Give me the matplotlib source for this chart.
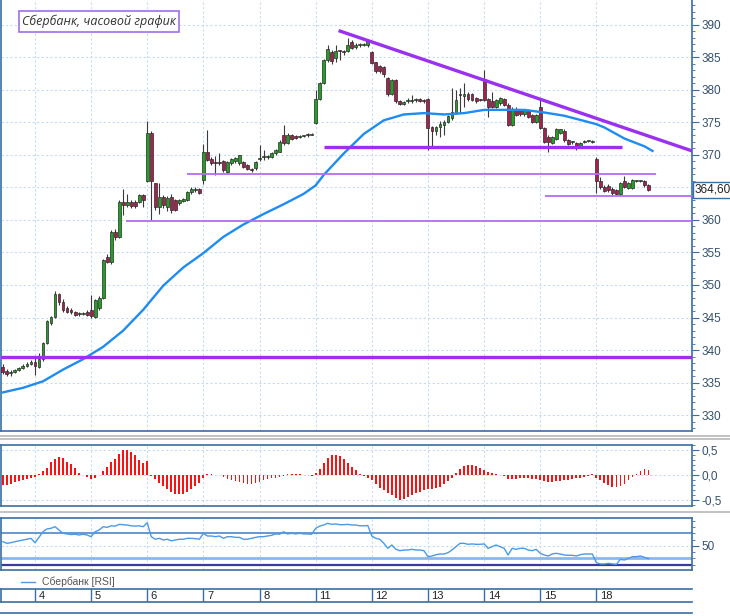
import numpy as np
import matplotlib
matplotlib.use("Agg")
import matplotlib.pyplot as plt
from matplotlib.ticker import FixedLocator, MultipleLocator, FuncFormatter
from matplotlib.lines import Line2D
import matplotlib.transforms as mtransforms

# ---------------- data (hourly bars) ----------------
opens = [337.4, 336.8, 336.5, 336.6, 336.9, 337.2, 337.5, 337.8, 338.2, 337.4,
         338.6, 341.1, 344.2, 345.1, 348.6, 347.4, 346.4, 346.2, 345.8, 345.5,
         345.6, 345.8, 346.2, 345.1, 346.4, 348.0, 354.3, 353.6, 358.2, 357.4,
         362.8, 362.3, 362.8, 362.8, 362.8, 363.8, 366.0, 373.4, 365.6, 362.0,
         363.5, 362.0, 363.5, 363.0, 362.6, 362.9, 363.1, 364.3, 364.6, 364.7,
         366.1, 370.5, 369.3, 368.9, 368.9, 369.0, 367.4, 368.8, 369.0, 368.7,
         368.9, 368.4, 367.8, 367.9, 369.3, 369.6, 369.6, 369.7, 370.2, 370.5,
         373.0, 371.8, 373.0, 372.9, 372.8, 372.9, 373.2, 373.1, 374.9, 378.6,
         381.0, 384.5, 385.8, 384.8, 386.0, 385.9, 386.0, 387.4, 386.5, 386.8,
         386.9, 386.8, 385.8, 384.2, 383.6, 383.5, 381.8, 379.4, 381.5, 378.2,
         377.8, 378.2, 378.3, 378.4, 378.6, 378.3, 378.6, 374.3, 373.7, 374.3,
         374.6, 375.1, 375.6, 376.4, 379.4, 379.0, 379.4, 379.3, 378.7, 378.5,
         381.7, 378.5, 378.2, 377.4, 377.9, 378.5, 377.6, 374.6, 377.1, 376.9,
         376.2, 376.8, 376.1, 375.1, 377.4, 374.1, 372.8, 371.8, 372.5, 373.4,
         373.7, 372.3, 371.9, 371.8, 371.3, 372.0, 372.1, 372.0, 369.3, 365.9,
         365.1, 365.2, 364.8, 364.6, 364.0, 365.9, 364.9, 364.9, 366.0, 366.0,
         366.0, 365.3]
closes = [336.6, 336.4, 336.6, 336.9, 337.2, 337.5, 337.8, 338.1, 337.6, 338.6,
          341.1, 344.4, 345.1, 348.6, 347.4, 346.1, 345.9, 345.8, 345.4, 345.6,
          345.7, 345.4, 345.2, 347.7, 348.0, 353.8, 353.6, 358.2, 357.4, 362.8,
          362.3, 362.7, 362.2, 362.2, 363.8, 363.0, 373.4, 366.0, 362.0, 363.5,
          362.3, 363.3, 361.5, 361.5, 363.0, 363.2, 364.3, 364.7, 364.6, 364.2,
          370.5, 369.2, 368.7, 368.8, 368.8, 367.7, 368.9, 369.3, 369.5, 369.9,
          368.2, 367.8, 367.6, 368.9, 369.5, 369.8, 369.7, 370.3, 370.7, 372.0,
          371.8, 373.0, 372.5, 372.6, 372.9, 372.9, 373.0, 373.2, 378.6, 381.0,
          384.5, 386.3, 384.4, 386.0, 385.9, 385.8, 386.9, 386.4, 386.9, 386.8,
          387.0, 387.5, 384.1, 382.9, 382.8, 382.4, 379.4, 381.5, 378.2, 377.8,
          378.1, 378.3, 378.4, 378.4, 378.3, 378.2, 374.1, 373.7, 374.3, 374.8,
          375.0, 375.9, 376.6, 378.4, 379.2, 379.4, 378.5, 378.4, 378.2, 378.4,
          378.4, 377.3, 377.4, 378.4, 378.7, 377.7, 374.6, 377.1, 376.1, 376.2,
          376.9, 375.8, 375.1, 376.1, 374.1, 372.0, 371.9, 372.7, 373.9, 373.9,
          372.2, 371.7, 371.9, 371.2, 371.8, 372.1, 372.1, 372.0, 365.9, 365.1,
          364.5, 364.6, 364.1, 364.0, 365.6, 365.1, 365.6, 366.1, 366.0, 366.0,
          365.3, 364.6]
highs = [337.8, 337.1, 337.0, 337.1, 337.4, 337.8, 338.1, 338.5, 339.0, 339.5,
         341.3, 344.6, 345.3, 349.0, 348.8, 347.8, 346.8, 346.5, 346.0, 345.9,
         345.9, 346.1, 348.5, 347.9, 348.3, 354.0, 354.7, 358.4, 358.6, 363.0,
         364.8, 364.0, 363.1, 363.0, 364.0, 364.0, 375.2, 373.6, 365.7, 365.6,
         363.8, 363.6, 364.0, 363.2, 363.2, 363.4, 364.5, 365.1, 365.0, 364.9,
         371.7, 373.8, 369.6, 369.8, 370.2, 369.2, 369.1, 369.5, 369.7, 370.0,
         369.1, 368.6, 368.0, 369.1, 371.5, 370.7, 370.0, 370.5, 370.9, 372.2,
         374.6, 373.3, 373.2, 373.1, 373.1, 373.1, 373.3, 373.4, 380.0, 381.2,
         384.7, 386.9, 386.1, 386.9, 386.1, 386.1, 387.9, 387.6, 387.1, 387.1,
         387.2, 387.6, 385.9, 384.3, 383.8, 383.6, 382.0, 381.7, 381.6, 378.4,
         378.3, 378.7, 379.2, 378.7, 378.8, 378.5, 378.8, 374.5, 374.5, 375.2,
         375.4, 376.1, 380.2, 379.9, 380.2, 381.0, 379.6, 379.5, 378.9, 378.6,
         383.0, 378.7, 379.7, 378.6, 378.9, 378.7, 377.9, 377.3, 377.3, 377.1,
         377.1, 377.0, 376.3, 376.3, 378.7, 374.3, 373.0, 372.9, 374.1, 374.0,
         373.9, 372.5, 372.1, 372.0, 372.0, 372.3, 372.3, 372.2, 369.7, 366.6,
         365.4, 365.5, 365.0, 364.8, 365.8, 366.7, 365.8, 366.3, 366.2, 366.2,
         366.2, 365.5]
lows = [336.3, 336.0, 336.0, 336.5, 336.8, 337.1, 337.4, 337.7, 336.2, 337.2,
        338.4, 341.0, 343.9, 345.0, 347.0, 345.8, 345.7, 345.5, 345.2, 345.3,
        345.4, 345.2, 345.0, 344.9, 346.2, 347.8, 353.4, 353.3, 356.9, 357.2,
        360.8, 362.0, 361.9, 361.9, 362.6, 362.0, 365.8, 360.0, 361.5, 360.9,
        361.8, 361.4, 361.0, 361.3, 362.3, 362.7, 362.9, 364.0, 364.3, 364.0,
        365.5, 369.0, 368.4, 366.9, 368.4, 367.4, 367.2, 368.5, 368.8, 368.5,
        367.9, 367.6, 367.4, 367.7, 369.0, 369.2, 369.4, 369.5, 370.0, 370.4,
        371.5, 371.6, 372.3, 372.4, 372.6, 372.7, 372.8, 373.0, 374.8, 378.4,
        380.8, 384.3, 384.0, 384.3, 384.6, 385.3, 385.8, 386.2, 386.3, 386.6,
        386.7, 386.6, 383.9, 382.5, 382.5, 382.0, 379.0, 379.2, 378.0, 377.6,
        377.6, 377.9, 378.0, 378.1, 378.1, 378.0, 370.7, 371.0, 373.0, 372.7,
        373.0, 374.9, 375.4, 376.2, 376.4, 377.4, 378.3, 378.2, 378.0, 378.2,
        378.2, 375.8, 377.2, 377.2, 377.7, 377.5, 374.4, 374.4, 375.9, 376.0,
        376.0, 375.6, 374.9, 374.9, 373.9, 371.8, 370.5, 371.6, 372.3, 373.2,
        372.0, 371.5, 371.6, 370.8, 371.1, 371.8, 371.9, 371.8, 364.1, 364.8,
        364.3, 364.3, 363.9, 363.8, 363.9, 364.9, 364.7, 364.7, 365.8, 365.8,
        365.1, 364.4]

# moving average (read at selected bars)
ma_bars = [0, 5, 10, 15, 20, 25, 30, 35, 40, 45, 50, 55, 60, 65, 70, 75, 78,
           80, 85, 90, 95, 100, 105, 110, 115, 120, 125, 130, 135, 140, 145,
           148, 150, 155, 160, 162]
ma_vals = [333.5, 334.2, 335.2, 337.0, 338.6, 340.5, 343.0, 346.2, 349.9,
           352.7, 354.9, 357.4, 359.3, 360.9, 362.4, 364.0, 365.3, 366.9,
           370.2, 373.2, 375.3, 376.2, 376.4, 376.2, 376.4, 376.9, 376.9,
           376.9, 376.5, 376.0, 375.2, 374.7, 374.2, 372.5, 371.3, 370.6]

macd_hist = [-0.20, -0.19, -0.17, -0.14, -0.12, -0.10, -0.07, -0.05, -0.03, 0.03,
             0.08, 0.15, 0.26, 0.33, 0.37, 0.35, 0.27, 0.22, 0.14, 0.05,
             0.00, -0.03, -0.07, -0.05, 0.00, 0.08, 0.17, 0.27, 0.33, 0.42,
             0.50, 0.50, 0.47, 0.40, 0.30, 0.24, 0.28, -0.02, -0.08, -0.15,
             -0.22, -0.28, -0.33, -0.37, -0.38, -0.37, -0.33, -0.28, -0.22, -0.15,
             -0.05, 0.02, 0.02, 0.01, 0.00, -0.03, -0.07, -0.10, -0.12, -0.14,
             -0.16, -0.17, -0.17, -0.15, -0.13, -0.10, -0.08, -0.06, -0.05, -0.03,
             -0.01, 0.02, 0.02, 0.02, 0.02, 0.01, 0.01, -0.02, 0.05, 0.12,
             0.25, 0.35, 0.40, 0.40, 0.38, 0.33, 0.25, 0.17, 0.10, 0.03,
             -0.01, -0.05, -0.10, -0.17, -0.25, -0.30, -0.35, -0.40, -0.45, -0.50,
             -0.47, -0.43, -0.40, -0.36, -0.33, -0.30, -0.28, -0.27, -0.26, -0.23,
             -0.18, -0.12, -0.05, 0.05, 0.12, 0.18, 0.20, 0.20, 0.18, 0.15,
             0.10, 0.06, 0.04, 0.03, 0.00, -0.02, -0.08, -0.08, -0.07, -0.06,
             -0.05, -0.06, -0.07, -0.08, -0.10, -0.12, -0.13, -0.13, -0.12, -0.11,
             -0.10, -0.09, -0.07, -0.06, -0.05, -0.03, -0.01, 0.02, -0.05, -0.10,
             -0.15, -0.20, -0.23, -0.23, -0.21, -0.17, -0.10, -0.04, 0.02, 0.08,
             0.12, 0.10]

rsi = [56.6, 54.0, 55.0, 56.6, 58.0, 59.3, 60.5, 62.0, 55.0, 63.5,
       72.5, 77.0, 78.0, 80.6, 75.3, 70.0, 69.0, 68.0, 68.5, 67.3,
       68.5, 67.3, 64.6, 72.5, 75.3, 80.6, 79.5, 82.0, 81.5, 84.3,
       83.8, 83.3, 82.0, 81.5, 82.0, 80.6, 87.0, 64.6, 60.5, 62.0,
       59.3, 60.5, 58.0, 59.3, 60.5, 60.5, 62.0, 62.0, 61.5, 60.5,
       70.0, 65.7, 65.7, 64.6, 65.7, 62.0, 64.6, 64.6, 63.5, 63.5,
       60.5, 60.5, 62.0, 63.5, 64.6, 64.6, 65.7, 66.8, 69.0, 68.5,
       72.5, 69.0, 70.0, 69.0, 70.0, 69.0, 69.0, 68.5, 78.0, 81.5,
       83.3, 86.0, 84.3, 85.0, 83.8, 83.8, 84.3, 83.3, 83.3, 82.0,
       82.0, 82.5, 65.7, 62.0, 60.5, 54.0, 46.0, 51.3, 44.4, 42.2,
       43.3, 43.3, 44.4, 43.3, 43.3, 42.2, 32.6, 33.7, 35.8, 36.9,
       36.9, 39.0, 43.3, 48.6, 54.0, 54.0, 52.4, 53.0, 52.4, 52.4,
       53.0, 46.0, 48.6, 51.3, 48.6, 46.0, 35.3, 46.0, 44.4, 46.0,
       46.0, 43.3, 42.2, 44.4, 38.0, 35.3, 33.7, 36.9, 38.0, 36.9,
       35.3, 34.8, 34.8, 33.7, 35.8, 36.9, 36.9, 36.9, 23.1, 21.0,
       21.0, 22.0, 21.0, 20.4, 28.4, 27.3, 30.0, 32.6, 32.6, 33.7,
       31.6, 29.5]

day_labels = ["4", "5", "6", "7", "8", "11", "12", "13", "14", "15", "18"]
day_start_bars = [8, 22, 36, 50, 64, 78, 92, 106, 120, 134, 148]

# support / resistance levels: (price, from bar, to bar, thick?)
levels = [(339.0, -1.0, 172.0, True),
          (359.9, 30.7, 172.0, False),
          (367.0, 45.9, 162.9, False),
          (371.15, 80.1, 154.4, True),
          (363.7, 135.2, 172.0, False)]
trend_bars = [84.1, 171.85]
trend_vals = [389.0, 370.6]
last_price = 364.60

# ---------------- styling ----------------
W, H = 730, 616
BLUE = "#3a6ea5"
GRID = "#c5dbf2"
LABEL = "#34506e"
VIOLET = "#9b30f0"
VIOLET_L = "#b36cf5"
XL = (-0.47, 171.85)

plt.rcParams["font.family"] = ["Liberation Sans", "DejaVu Sans"]
fig = plt.figure(figsize=(W / 100, H / 100), dpi=100)


def px_axes(x0, y0, x1, y1):
    return fig.add_axes([x0 / W, 1 - y1 / H, (x1 - x0) / W, (y1 - y0) / H])


def style_panel(ax):
    for s in ax.spines.values():
        s.set_color(BLUE)
        s.set_linewidth(1.2)
    ax.set_xlim(*XL)
    ax.set_xticks([])
    ax.yaxis.tick_right()
    ax.tick_params(axis="y", which="both", colors=BLUE, labelcolor=LABEL,
                   direction="out", labelsize=8.5, pad=2)
    ax.tick_params(axis="y", which="major", length=5)
    ax.tick_params(axis="y", which="minor", length=2.5)
    for b in day_start_bars:
        ax.axvline(b, color=GRID, lw=0.8, ls=(0, (2, 2)), zorder=0)


comma = lambda fmt: FuncFormatter(lambda v, p: (fmt % v).replace(".", ","))

# ---------------- main price panel ----------------
ax = px_axes(1, 0, 692, 431)
style_panel(ax)
ax.spines["top"].set_visible(False)
ax.set_ylim(327.57, 393.78)
ax.yaxis.set_major_locator(FixedLocator(np.arange(330, 391, 5)))
ax.yaxis.set_minor_locator(MultipleLocator(1))
# the 365 label is covered by the last-price tag, as in the reference
ax.yaxis.set_major_formatter(FuncFormatter(
    lambda v, p: "" if abs(v - 365) < 0.01 else "%.0f" % v))
for v in np.arange(330, 391, 5):
    ax.axhline(v, color=GRID, lw=0.8, ls=(0, (2, 2)), zorder=0)

idx = np.arange(len(closes))
o = np.array(opens); c = np.array(closes)
h = np.array(highs); l = np.array(lows)
up = c >= o
ax.vlines(idx, l, h, color="#3a3a3a", lw=0.8, zorder=2)
body_lo = np.minimum(o, c)
body_h = np.maximum(np.abs(c - o), 0.15)
cols = np.where(up, "#22a022", "#a8204e")
ax.bar(idx, body_h, bottom=body_lo, width=0.72, color=cols,
       edgecolor="#2a2a2a", linewidth=0.5, zorder=3)

ax.plot(ma_bars, ma_vals, color="#1e8cf0", lw=1.7, zorder=4)

for price, b0, b1, thick in levels:
    ax.plot([b0, b1], [price, price], color=VIOLET if thick else VIOLET_L,
            lw=2.4 if thick else 1.3, zorder=5, solid_capstyle="butt")
ax.plot(trend_bars, trend_vals, color=VIOLET, lw=2.4, zorder=5)

tr = mtransforms.blended_transform_factory(ax.transAxes, ax.transData)
ax.text(1.004, last_price, f"{last_price:.2f}".replace(".", ","), transform=tr,
        ha="left", va="center", fontsize=8.5, color="#222222",
        bbox=dict(boxstyle="square,pad=0.15", fc="white", ec=BLUE, lw=1.0),
        zorder=10, clip_on=False)

fig.text(22 / W, 1 - 21.5 / H, "Сбербанк, часовой график", fontsize=9,
         style="italic", family=["Open Sans", "DejaVu Sans"], color="#333333",
         ha="left", va="center",
         bbox=dict(boxstyle="square,pad=0.28", fc="white", ec="#a06ee6", lw=1.2))

# separators between panels
for yy, colr in [(436, "#b8b8b8"), (439, "#b8b8b8"), (512, "#b8b8b8")]:
    fig.add_artist(Line2D([0, 1], [1 - yy / H] * 2, color=colr, lw=1.2))

# ---------------- MACD histogram ----------------
ax2 = px_axes(1, 445, 692, 506)
style_panel(ax2)
ax2.set_ylim(-0.62, 0.60)
ax2.yaxis.set_major_locator(FixedLocator([-0.5, 0.0, 0.5]))
ax2.yaxis.set_minor_locator(MultipleLocator(0.1))
ax2.yaxis.set_major_formatter(comma("%.1f"))
for v in (-0.5, 0.0, 0.5):
    ax2.axhline(v, color=GRID, lw=0.8, ls=(0, (2, 2)), zorder=0)
ax2.bar(np.arange(len(macd_hist)), macd_hist, width=0.45, color="#ff1010",
        zorder=3)

# ---------------- RSI ----------------
ax3 = px_axes(1, 518, 692, 570)
style_panel(ax3)
ax3.set_ylim(11.3, 94.5)
ax3.yaxis.set_major_locator(FixedLocator([50]))
ax3.yaxis.set_minor_locator(MultipleLocator(10))
ax3.yaxis.set_major_formatter(FuncFormatter(lambda v, p: "%d" % v))
ax3.axhline(50, color=GRID, lw=0.8, ls=(0, (2, 2)), zorder=0)
ax3.axhline(70, color="#4a86d0", lw=1.2, zorder=2)
ax3.axhline(30, color="#8ab8ee", lw=2.0, zorder=2)
ax3.axhline(20, color="#3a3aa0", lw=1.6, zorder=2)
ax3.plot(np.arange(len(rsi)), rsi, color="#4a9ae8", lw=1.0, zorder=3)

fig.add_artist(Line2D([21 / W, 35 / W], [1 - 582 / H] * 2, color="#4a9ae8", lw=1.0))
fig.text(42 / W, 1 - 582 / H, "Сбербанк [RSI]", fontsize=7.5, color="#555555",
         ha="left", va="center")

# ---------------- date row ----------------
ax4 = px_axes(1, 589, 692, 602)
ax4.set_xlim(*XL)
ax4.set_ylim(0, 1)
ax4.set_xticks([]); ax4.set_yticks([])
for s in ax4.spines.values():
    s.set_color(BLUE); s.set_linewidth(1.2)
ax4.spines["left"].set_visible(False)
ax4.spines["right"].set_visible(False)
for b, lab in zip(day_start_bars, day_labels):
    ax4.axvline(b, color=BLUE, lw=1.0)
    ax4.text(b + 0.9, 0.45, lab, fontsize=8, color="#222222", ha="left",
             va="center")
fig.add_artist(Line2D([0, 692 / W], [1 - 613 / H] * 2, color=BLUE, lw=1.2))
fig.add_artist(Line2D([1 / W, 1 / W], [1 - 602 / H, 1 - 589 / H], color=BLUE, lw=1.2))

fig.savefig("out.png", dpi=100)
